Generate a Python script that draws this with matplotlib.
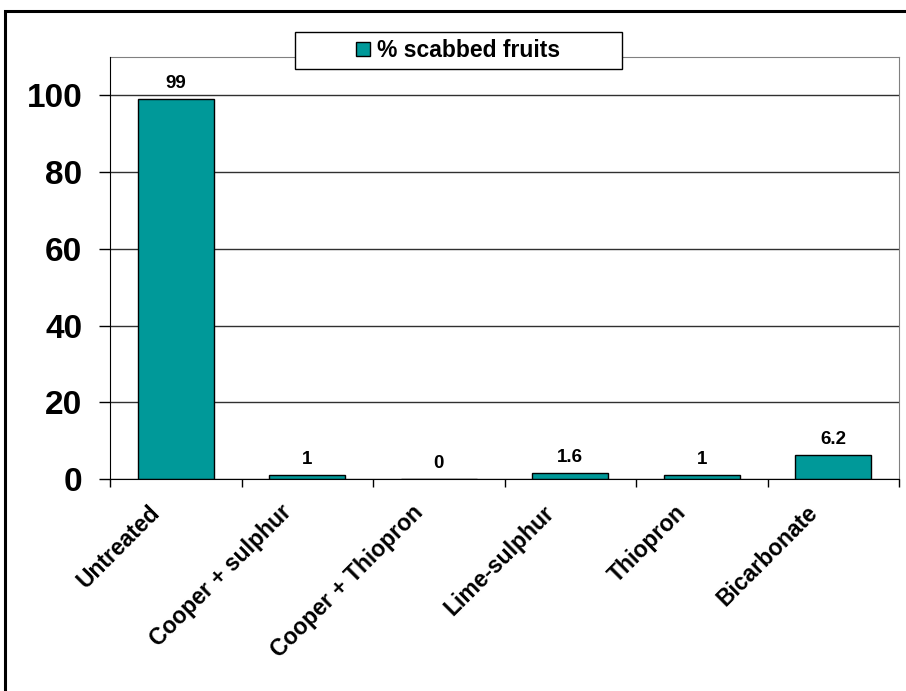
import numpy as np
import matplotlib
matplotlib.use("Agg")
import matplotlib.pyplot as plt
from matplotlib.patches import Rectangle
from matplotlib.transforms import ScaledTranslation

plt.rcParams['font.family'] = ['Liberation Sans', 'DejaVu Sans']
plt.rcParams['font.weight'] = 'bold'

treatments = ['Untreated', 'Cooper + sulphur', 'Cooper + Thiopron',
              'Lime-sulphur', 'Thiopron', 'Bicarbonate']
scabbed = [99, 1, 0, 1.6, 1, 6.2]
value_labels = ['99', '1', '0', '1.6', '1', '6.2']
series_name = '% scabbed fruits'
yticks = [0, 20, 40, 60, 80, 100]

fig = plt.figure(figsize=(9.06, 6.91), dpi=100)
ax = fig.add_axes([110 / 906, 1 - 479 / 691, 789 / 906, 422 / 691])

x = np.arange(len(treatments))
bars = ax.bar(x, scabbed, width=0.58, color='#009999', edgecolor='black',
              linewidth=1, zorder=3, label=series_name)

for rect, lab in zip(bars, value_labels):
    ax.annotate(lab, (rect.get_x() + rect.get_width() / 2, rect.get_height()),
                xytext=(0, 5), textcoords='offset points', ha='center',
                va='bottom', fontsize=13.5, fontweight='bold')

ax.set_xlim(-0.5, len(treatments) - 0.5)
ax.set_ylim(0, 110)
ax.set_yticks(yticks)
ax.set_yticklabels([str(t) for t in yticks], fontsize=24, fontweight='bold')
ax.tick_params(axis='y', length=8, width=1, pad=12, direction='out')
ax.yaxis.grid(True, color='#303030', linewidth=1, zorder=0)

ax.set_xticks(x)
ax.set_xticklabels(treatments, rotation=45, ha='right', va='center',
                   rotation_mode='anchor', fontsize=16.5, fontweight='bold')
ax.tick_params(axis='x', which='major', length=0, pad=0)
ax.set_xticks(np.arange(len(treatments) + 1) - 0.5, minor=True)
ax.tick_params(axis='x', which='minor', length=6, width=1, direction='out')
shift = ScaledTranslation(-0.19, -0.30, fig.dpi_scale_trans)
for lbl in ax.get_xticklabels():
    lbl.set_transform(lbl.get_transform() + shift)

for side in ['top', 'right']:
    ax.spines[side].set_color('#808080')
for side in ['left', 'bottom']:
    ax.spines[side].set_color('black')
    ax.spines[side].set_zorder(4)

# legend box sitting on top of the plot frame
fig.patches.append(Rectangle((295 / 906, 1 - 69 / 691), 327 / 906, 37 / 691,
                             transform=fig.transFigure, facecolor='white',
                             edgecolor='black', linewidth=1, zorder=5))
fig.legend(handles=[bars], labels=[series_name], loc='center',
           bbox_to_anchor=(458 / 906, 1 - 50.5 / 691), frameon=False,
           fontsize=16.5, handlelength=0.6, handleheight=0.6,
           handletextpad=0.3, borderpad=0).set_zorder(6)

# outer chart border
fig.patches.append(Rectangle((5 / 906, -0.05), 1.0, 1 - 11 / 691 + 0.05,
                             transform=fig.transFigure, facecolor='none',
                             edgecolor='black', linewidth=2.2, zorder=10))

fig.savefig('out.png', dpi=100)
